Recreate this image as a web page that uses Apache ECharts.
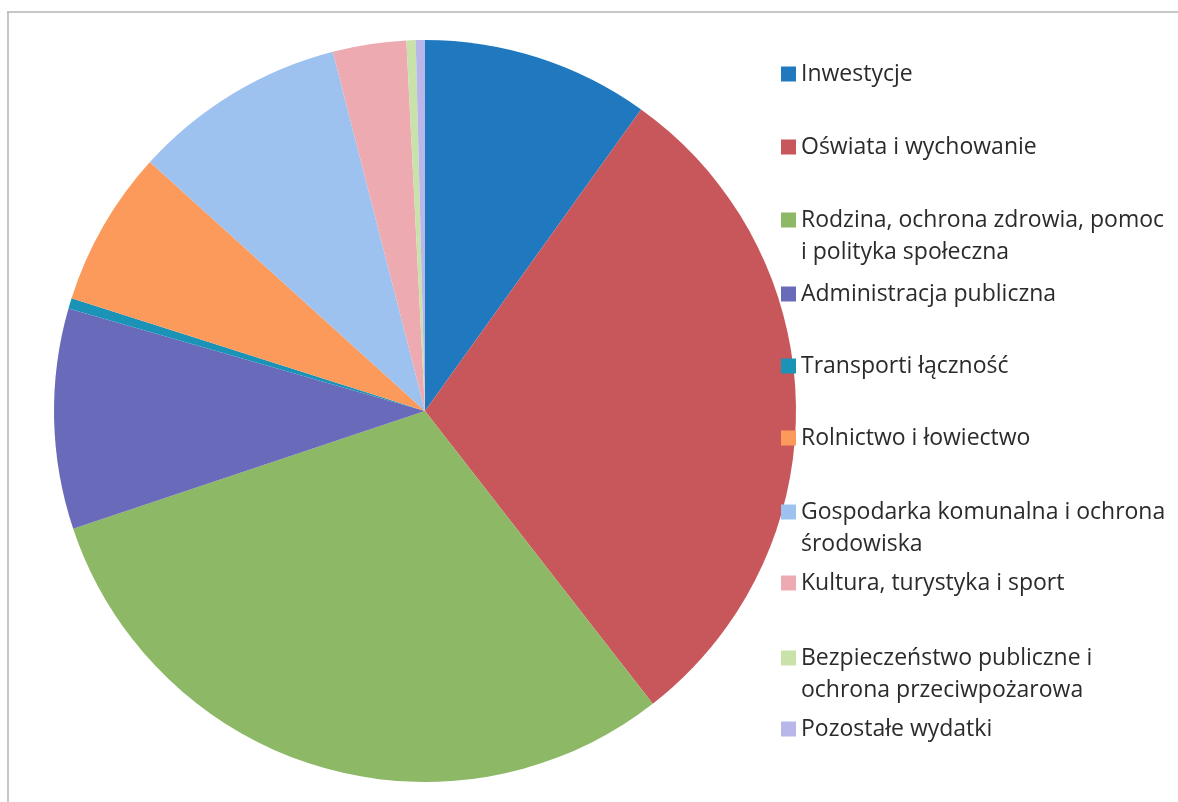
<!DOCTYPE html>
<html>
<head>
<meta charset="utf-8">
<style>
  html, body { margin: 0; padding: 0; background: #fff; }
  #chart { width: 1178px; height: 802px; }
</style>
<script src="https://cdn.jsdelivr.net/npm/echarts@6/dist/echarts.min.js"></script>
</head>
<body>
<div id="chart"></div>
<script>
// kategorie wydatków (kolejność jak w legendzie)
const categories = [
  'Inwestycje',
  'Oświata i wychowanie',
  'Rodzina, ochrona zdrowia, pomoc i polityka społeczna',
  'Administracja publiczna',
  'Transporti łączność',
  'Rolnictwo i łowiectwo',
  'Gospodarka komunalna i ochrona środowiska',
  'Kultura, turystyka i sport',
  'Bezpieczeństwo publiczne i ochrona przeciwpożarowa',
  'Pozostałe wydatki'
]
// udział w %
const shares = [9.9, 29.6, 30.4, 9.6, 0.45, 6.8, 9.3, 3.2, 0.4, 0.4]
// tekst legendy: pierwszy i drugi wiersz jak w oryginale
const legendLine1 = [
  'Inwestycje',
  'Oświata i wychowanie',
  'Rodzina, ochrona zdrowia, pomoc',
  'Administracja publiczna',
  'Transporti łączność',
  'Rolnictwo i łowiectwo',
  'Gospodarka komunalna i ochrona',
  'Kultura, turystyka i sport',
  'Bezpieczeństwo publiczne i',
  'Pozostałe wydatki'
]
const legendLine2 = ['', '', 'i polityka społeczna', '', '', '', 'środowiska', '', 'ochrona przeciwpożarowa', '']
const colors = [
  '#2079bf', '#c8575c', '#8db866', '#6a6abb', '#1a93b6',
  '#fb9a5b', '#9ec2f0', '#eeaab1', '#c8e2a9', '#b9b7ea'
]
// środek pierwszego wiersza każdej pozycji legendy
const legendRows = [74, 147, 220, 294, 366, 438, 512, 583, 658, 729]

const chart = echarts.init(document.getElementById('chart'))

const lineH = 32
const fontSize = 23
const textStyle = {
  fontFamily: 'Open Sans',
  fontSize: fontSize,
  color: '#2b2b2b',
  lineHeight: lineH
}

const legends = categories.map((name, i) => ({
  orient: 'vertical',
  left: 781,
  top: legendRows[i] - lineH / 2,
  data: [name],
  icon: 'rect',
  itemWidth: 15,
  itemHeight: 15,
  itemGap: 0,
  padding: 0,
  selectedMode: false,
  formatter: () => legendLine1[i],
  textStyle: textStyle
}))

// drugie wiersze zawiniętych pozycji legendy
const secondLines = []
legendLine2.forEach((txt, i) => {
  if (!txt) return
  secondLines.push({
    type: 'text',
    left: 801,
    top: legendRows[i] + lineH - lineH / 2,
    style: {
      text: txt,
      font: fontSize + 'px "Open Sans"',
      fill: '#2b2b2b',
      lineHeight: lineH,
      verticalAlign: 'top'
    }
  })
})

const option = {
  animation: false,
  backgroundColor: '#fff',
  color: colors,
  legend: legends,
  graphic: [
    {
      type: 'line',
      shape: { x1: 7, y1: 12, x2: 1178, y2: 12 },
      style: { stroke: '#b5b5b5', lineWidth: 1.5 }
    },
    {
      type: 'line',
      shape: { x1: 8, y1: 12, x2: 8, y2: 802 },
      style: { stroke: '#b5b5b5', lineWidth: 1.5 }
    }
  ].concat(secondLines),
  series: [
    {
      type: 'pie',
      center: [425, 411],
      radius: 371,
      startAngle: 90,
      clockwise: true,
      label: { show: false },
      labelLine: { show: false },
      itemStyle: { borderWidth: 0 },
      emphasis: { disabled: true },
      data: categories.map((name, i) => ({ name: name, value: shares[i] }))
    }
  ]
}

chart.setOption(option)
</script>
</body>
</html>
